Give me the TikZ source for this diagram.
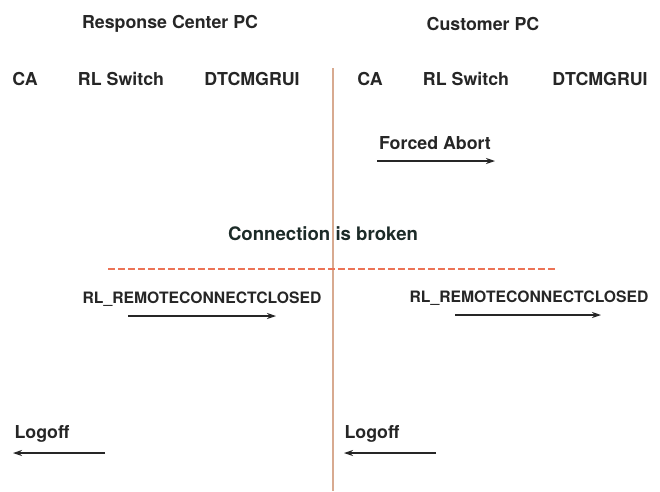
\documentclass[tikz,border=0pt]{standalone}
\usepackage{fontspec}
\setmainfont{TeX Gyre Heros}
\usetikzlibrary{arrows.meta}
\definecolor{ink}{HTML}{262626}
\definecolor{inkgreen}{HTML}{1C2B28}
\definecolor{divider}{HTML}{D8AA90}
\definecolor{breakline}{HTML}{EC7356}
\tikzset{
  lbl/.style={inner sep=0pt, text=ink, font=\bfseries\fontsize{17.8}{20}\selectfont},
  msg/.style={inner sep=0pt, text=ink, font=\bfseries\fontsize{15.7}{18}\selectfont},
  sig/.style={draw=ink, line width=1.1pt, -{Stealth[length=9pt,width=6pt]}},
}
\begin{document}
\begin{tikzpicture}[x=1pt,y=-1pt]
  \useasboundingbox[fill=white] (0,0) rectangle (660,491);

  % column headings
  \node[lbl] (rcpc) at (170,24) {Response Center PC};
  \node[lbl] (cpc)  at (483,24) {Customer PC};

  % processes on each machine
  \node[lbl] (ca1)  at (25,79)  {CA};
  \node[lbl] (rl1)  at (121,79) {RL Switch};
  \node[lbl] (dt1)  at (252,79) {DTCMGRUI};
  \node[lbl] (ca2)  at (370,79) {CA};
  \node[lbl] (rl2)  at (466,79) {RL Switch};
  \node[lbl] (dt2)  at (600,79) {DTCMGRUI};

  % machine boundary
  \coordinate (vtop) at (333,68);
  \coordinate (vbot) at (333,491);
  \draw[draw=divider, line width=1.5pt] (vtop) -- (vbot);

  % forced abort on the customer side
  \node[lbl] (fa) at (435,143) {Forced Abort};
  \coordinate (fa1) at (377,161);
  \coordinate (fa2) at (495,161);
  \draw[sig] (fa1) -- (fa2);

  % broken connection
  \node[lbl, text=inkgreen, font=\bfseries\fontsize{18.6}{21}\selectfont, fill=white, inner xsep=1pt] (cb) at (323,234) {Connection is broken};
  \draw[draw=divider, line width=1.5pt] (333,222) -- (333,246);
  \coordinate (bl) at (108,269);
  \coordinate (br) at (556,269);
  \draw[draw=breakline, line width=1.2pt, dash pattern=on 7pt off 3pt] (bl) -- (br);

  % remote connect closed notifications
  \node[msg] (rc1) at (202,299) {RL\_REMOTECONNECTCLOSED};
  \coordinate (rc1a) at (128,316);
  \coordinate (rc1b) at (276,316);
  \draw[sig] (rc1a) -- (rc1b);

  \node[msg] (rc2) at (529,298) {RL\_REMOTECONNECTCLOSED};
  \coordinate (rc2a) at (455,315);
  \coordinate (rc2b) at (601,315);
  \draw[sig] (rc2a) -- (rc2b);

  % logoff on both sides
  \node[lbl] (lo1) at (42,434) {Logoff};
  \coordinate (lo1a) at (105,453);
  \coordinate (lo1b) at (13,453);
  \draw[sig] (lo1a) -- (lo1b);

  \node[lbl] (lo2) at (372,434) {Logoff};
  \coordinate (lo2a) at (436,453);
  \coordinate (lo2b) at (344,453);
  \draw[sig] (lo2a) -- (lo2b);
\end{tikzpicture}
\end{document}
